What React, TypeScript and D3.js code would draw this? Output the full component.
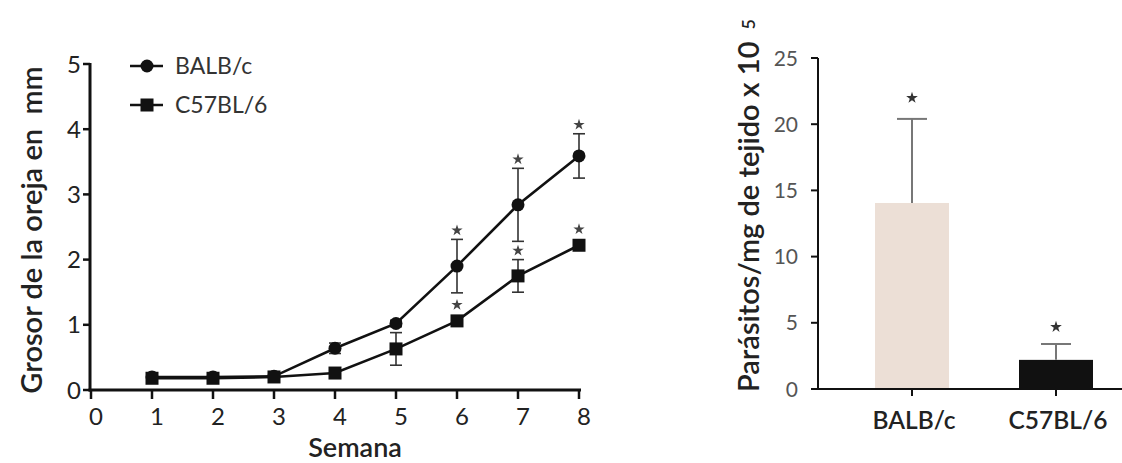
import React from "react";
import * as d3 from "d3";

const weeks = [1, 2, 3, 4, 5, 6, 7, 8];
const balbMean = [0.2, 0.2, 0.21, 0.64, 1.02, 1.9, 2.84, 3.59];
const balbErr = [0.03, 0.03, 0.03, 0.08, 0.05, 0.41, 0.56, 0.34];
const balbStar = [false, false, false, false, false, true, true, true];
const c57Mean = [0.18, 0.18, 0.2, 0.26, 0.63, 1.06, 1.75, 2.22];
const c57Err = [0.03, 0.03, 0.03, 0.03, 0.25, 0.05, 0.25, 0.05];
const c57Star = [false, false, false, false, false, true, true, true];
const xTicks = [0, 1, 2, 3, 4, 5, 6, 7, 8];
const yTicksLeft = [0, 1, 2, 3, 4, 5];

const groups = ["BALB/c", "C57BL/6"];
const parasiteMean = [14.05, 2.2];
const parasiteErr = [6.35, 1.2];
const barColors = ["#ecdfd6", "#111111"];
const yTicksRight = [0, 5, 10, 15, 20, 25];

const FONT = "Lato, 'Noto Sans', sans-serif";

export default function App() {
  const x = d3.scaleLinear().domain([0, 8]).range([91, 579]);
  const y = d3.scaleLinear().domain([0, 5]).range([390, 64]);
  const line = d3
    .line<number>()
    .x((_, i) => x(weeks[i]))
    .y((d) => y(d));

  const xb = d3.scalePoint<string>().domain(groups).range([912, 1056]);
  const yb = d3.scaleLinear().domain([0, 25]).range([389, 58]);
  const barW = 74;

  const star = d3.symbol().type(d3.symbolStar).size(40)() || "";
  const starBig = d3.symbol().type(d3.symbolStar).size(42)() || "";

  const series = [
    { mean: balbMean, err: balbErr, star: balbStar, shape: "circle" },
    { mean: c57Mean, err: c57Err, star: c57Star, shape: "square" },
  ];

  return (
    <svg
      width={1122}
      height={463}
      style={{ position: "absolute", left: 0, top: 0, background: "#fff" }}
      fontFamily={FONT}
    >
      {/* LEFT CHART */}
      {series.map((s, si) =>
        s.mean.map((m, i) => {
          const cx = x(weeks[i]);
          const t = y(m + s.err[i]);
          const b = y(m - s.err[i]);
          return (
            <g key={`e${si}-${i}`} stroke="#333" strokeWidth={1.6}>
              <line x1={cx} x2={cx} y1={t} y2={b} />
              <line x1={cx - 6} x2={cx + 6} y1={t} y2={t} />
              <line x1={cx - 6} x2={cx + 6} y1={b} y2={b} />
            </g>
          );
        })
      )}
      {series.map((s, si) => (
        <path key={`l${si}`} d={line(s.mean) || ""} fill="none" stroke="#111" strokeWidth={2.6} />
      ))}
      {series.map((s, si) =>
        s.mean.map((m, i) => {
          const cx = x(weeks[i]);
          const cy = y(m);
          return s.shape === "circle" ? (
            <circle key={`m${si}-${i}`} cx={cx} cy={cy} r={6.5} fill="#111" />
          ) : (
            <rect key={`m${si}-${i}`} x={cx - 6.5} y={cy - 6.5} width={13} height={13} fill="#111" />
          );
        })
      )}
      {series.map((s, si) =>
        s.mean.map((m, i) => {
          if (!s.star[i]) return null;
          const top = Math.min(y(m + s.err[i]), y(m) - 7);
          return (
            <path
              key={`s${si}-${i}`}
              d={star}
              transform={`translate(${x(weeks[i])},${top - 9})`}
              fill="#444"
            />
          );
        })
      )}
      {/* axes */}
      <line x1={90} x2={90} y1={63} y2={391.5} stroke="#111" strokeWidth={3} />
      <line x1={88.5} x2={581} y1={390} y2={390} stroke="#111" strokeWidth={3} />
      {yTicksLeft.map((t) => (
        <g key={`yt${t}`}>
          <line x1={83} x2={90} y1={y(t)} y2={y(t)} stroke="#111" strokeWidth={2.5} />
          <text x={81} y={y(t)} dy="0.36em" textAnchor="end" fontSize={24} fill="#222">
            {t}
          </text>
        </g>
      ))}
      {xTicks.map((t) => (
        <g key={`xt${t}`}>
          <line x1={x(t)} x2={x(t)} y1={390} y2={399} stroke="#111" strokeWidth={2.5} />
          <text x={x(t) + 5} y={425} textAnchor="middle" fontSize={24} fill="#222">
            {t}
          </text>
        </g>
      ))}
      <text x={355} y={457} textAnchor="middle" fontSize={27} fontWeight={600} fill="#222">
        Semana
      </text>
      <text
        transform={`translate(42,230) rotate(-90)`}
        textAnchor="middle"
        fontSize={29}
        fontWeight={600}
        fill="#222"
        style={{ whiteSpace: "pre" }}
      >
        {"Grosor de la oreja en\u00a0\u00a0mm"}
      </text>
      {/* legend */}
      <line x1={130} x2={163} y1={66} y2={66} stroke="#111" strokeWidth={2.6} />
      <circle cx={147} cy={66} r={6.5} fill="#111" />
      <text x={175} y={66} dy="0.36em" fontSize={23} fill="#333">
        BALB/c
      </text>
      <line x1={130} x2={163} y1={105} y2={105} stroke="#111" strokeWidth={2.6} />
      <rect x={140.5} y={98.5} width={13} height={13} fill="#111" />
      <text x={175} y={105} dy="0.36em" fontSize={23} fill="#333">
        C57BL/6
      </text>

      {/* RIGHT CHART */}
      {groups.map((g, i) => {
        const cx = xb(g) as number;
        const top = yb(parasiteMean[i]);
        const et = yb(parasiteMean[i] + parasiteErr[i]);
        return (
          <g key={`b${g}`}>
            <rect x={cx - barW / 2} y={top} width={barW} height={yb(0) - top} fill={barColors[i]} />
            <line x1={cx} x2={cx} y1={top} y2={et} stroke="#777" strokeWidth={2} />
            <line x1={cx - 15} x2={cx + 15} y1={et} y2={et} stroke="#777" strokeWidth={2} />
            <path d={starBig} transform={`translate(${cx},${et - (i === 0 ? 21 : 17)})`} fill="#333" />
            <line x1={cx} x2={cx} y1={389} y2={396} stroke="#111" strokeWidth={2} />
            <text x={cx + 2} y={429} textAnchor="middle" fontSize={24.5} fontWeight={600} fill="#222">
              {g}
            </text>
          </g>
        );
      })}
      <line x1={818} x2={818} y1={58} y2={390} stroke="#111" strokeWidth={2} />
      <line x1={817} x2={1122} y1={389} y2={389} stroke="#111" strokeWidth={2} />
      {yTicksRight.map((t) => (
        <g key={`ryt${t}`}>
          <line x1={811} x2={818} y1={yb(t)} y2={yb(t)} stroke="#111" strokeWidth={2} />
          <text x={798} y={yb(t)} dy="0.36em" textAnchor="end" fontSize={21} fill="#555">
            {t}
          </text>
        </g>
      ))}
      <text
        transform={`translate(759,392) rotate(-90)`}
        textAnchor="start"
        fontSize={29}
        fontWeight={600}
        fill="#222"
      >
        Parásitos/mg de tejido x 10
        <tspan dx={12} dy={-4} fontSize={18}>5</tspan>
      </text>
    </svg>
  );
}
